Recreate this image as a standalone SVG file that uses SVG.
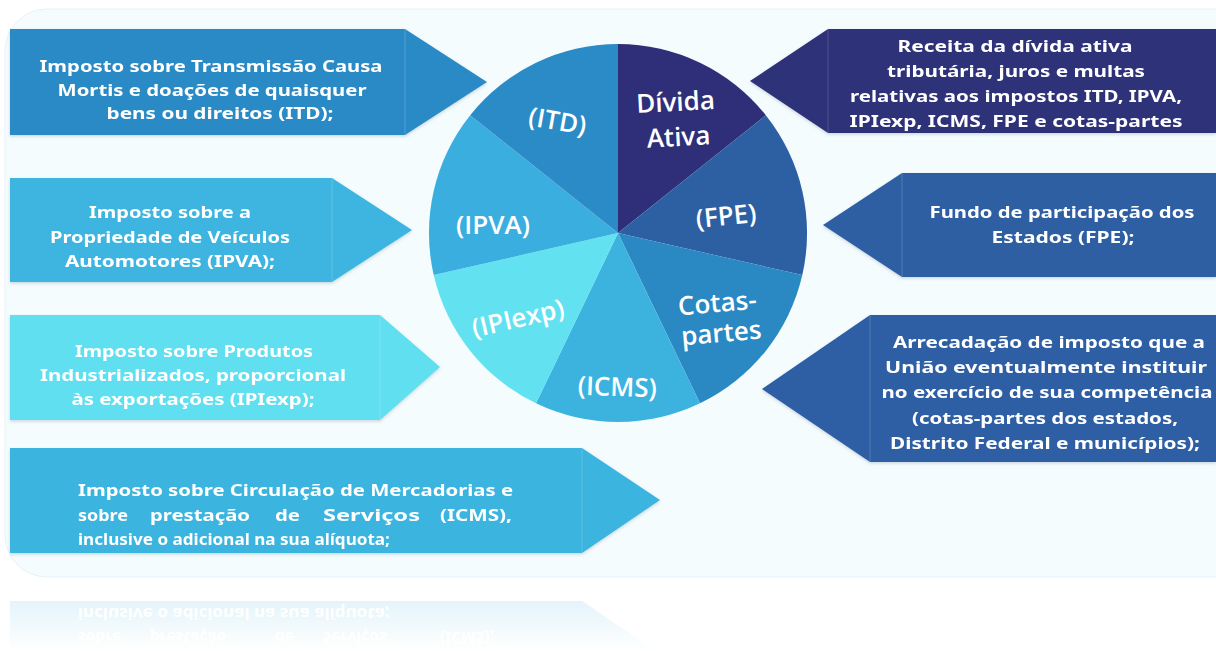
<svg xmlns="http://www.w3.org/2000/svg" width="1216" height="651" viewBox="0 0 1216 651">
<defs>
<style>
.bt{font-family:"Noto Sans","DejaVu Sans",sans-serif;font-weight:700;font-size:15.5px;fill:#ffffff;text-anchor:middle}
.bl{font-family:"Noto Sans","DejaVu Sans",sans-serif;font-weight:700;font-size:15.5px;fill:#ffffff}
.pl{font-family:"Open Sans","Noto Sans",sans-serif;font-weight:600;font-size:26px;fill:#ffffff;text-anchor:middle}
.sep{stroke:#ffffff;stroke-opacity:0.18;stroke-width:1}
</style>
<linearGradient id="fade" x1="0" y1="0" x2="0" y2="1">
<stop offset="0" stop-color="#ffffff" stop-opacity="0.35"/>
<stop offset="1" stop-color="#ffffff" stop-opacity="1"/>
</linearGradient>
<filter id="sh" x="-5%" y="-5%" width="110%" height="115%">
<feDropShadow dx="0" dy="1.5" stdDeviation="1.5" flood-color="#4a6a80" flood-opacity="0.25"/>
</filter>
</defs>
<rect x="0" y="0" width="1216" height="651" fill="#ffffff"/>
<rect id="card" x="5" y="9" width="1260" height="568" rx="42" fill="#f5fcfe" stroke="#e6f3f8" stroke-width="1"/>

<!-- reflection -->
<g id="reflection" transform="translate(0,1154) scale(1,-1)" opacity="0.3">
<path d="M10,448 H582 L660,500 L582,553 H10 Z" fill="#3bb4df"/>
<text class="bl" y="522"><tspan x="78">sobre</tspan><tspan x="150">prestação</tspan><tspan x="275">de</tspan><tspan x="323">Serviços</tspan><tspan x="440">(ICMS),</tspan></text>
<text class="bl" x="78" y="546" textLength="312" lengthAdjust="spacingAndGlyphs">inclusive o adicional na sua alíquota;</text>
</g>
<rect x="0" y="580" width="1216" height="71" fill="url(#fade)"/>

<!-- pie -->
<g id="pie">
<g id="slice-divida"><path d="M618,233 L618,44 A189,189 0 0 1 765.8,115.2 Z" fill="#2e2f78"/></g>
<g id="slice-fpe"><path d="M618,233 L765.8,115.2 A189,189 0 0 1 802.3,275.1 Z" fill="#2d5fa3"/></g>
<g id="slice-cotas"><path d="M618,233 L802.3,275.1 A189,189 0 0 1 700,403.3 Z" fill="#2a88c3"/></g>
<g id="slice-icms"><path d="M618,233 L700,403.3 A189,189 0 0 1 536,403.3 Z" fill="#3cb3de"/></g>
<g id="slice-ipiexp"><path d="M618,233 L536,403.3 A189,189 0 0 1 433.7,275.1 Z" fill="#62e2f1"/></g>
<g id="slice-ipva"><path d="M618,233 L433.7,275.1 A189,189 0 0 1 470.2,115.2 Z" fill="#3aaedf"/></g>
<g id="slice-itd"><path d="M618,233 L470.2,115.2 A189,189 0 0 1 618,44 Z" fill="#2b8bc6"/></g>
<text class="pl" transform="translate(556,130) rotate(10)">(ITD)</text>
<text class="pl" transform="translate(676,111) rotate(-3)">Dívida</text>
<text class="pl" transform="translate(679,146) rotate(-3)">Ativa</text>
<text class="pl" transform="translate(727,225) rotate(-6)">(FPE)</text>
<text class="pl" transform="translate(718,312) rotate(-5)">Cotas-</text>
<text class="pl" transform="translate(722,342) rotate(-5)">partes</text>
<text class="pl" transform="translate(617,396) rotate(2)">(ICMS)</text>
<text class="pl" transform="translate(520,327) rotate(-13)">(IPIexp)</text>
<text class="pl" x="493" y="234">(IPVA)</text>
</g>

<g id="connectors"></g>

<!-- left nodes -->
<g id="node-itd" filter="url(#sh)">
<path d="M10,29 H405 L487,82 L405,135 H10 Z" fill="#2b8ac6"/>
<line class="sep" x1="405" y1="29" x2="405" y2="135"/>
<text class="bt" x="211" y="72" textLength="343" lengthAdjust="spacingAndGlyphs">Imposto sobre Transmissão Causa</text>
<text class="bt" x="212" y="96" textLength="309" lengthAdjust="spacingAndGlyphs">Mortis e doações de quaisquer</text>
<text class="bt" x="220" y="119" textLength="227" lengthAdjust="spacingAndGlyphs">bens ou direitos (ITD);</text>
</g>
<g id="node-ipva" filter="url(#sh)">
<path d="M10,178 H332 L412,230 L332,282 H10 Z" fill="#3db5e0"/>
<line class="sep" x1="332" y1="178" x2="332" y2="282"/>
<text class="bt" x="170" y="218" textLength="162" lengthAdjust="spacingAndGlyphs">Imposto sobre a</text>
<text class="bt" x="170" y="243" textLength="240" lengthAdjust="spacingAndGlyphs">Propriedade de Veículos</text>
<text class="bt" x="170" y="267" textLength="210" lengthAdjust="spacingAndGlyphs">Automotores (IPVA);</text>
</g>
<g id="node-ipiexp" filter="url(#sh)">
<path d="M10,315 H380 L440,367 L380,420 H10 Z" fill="#5fdfef"/>
<line class="sep" x1="380" y1="315" x2="380" y2="420"/>
<text class="bt" x="194" y="357" textLength="238" lengthAdjust="spacingAndGlyphs">Imposto sobre Produtos</text>
<text class="bt" x="193" y="381" textLength="306" lengthAdjust="spacingAndGlyphs">Industrializados, proporcional</text>
<text class="bt" x="193" y="405" textLength="243" lengthAdjust="spacingAndGlyphs">às exportações (IPIexp);</text>
</g>
<g id="node-icms" filter="url(#sh)">
<path d="M10,448 H582 L660,500 L582,553 H10 Z" fill="#3bb4df"/>
<line class="sep" x1="582" y1="448" x2="582" y2="553"/>
<text class="bl" x="78" y="496" textLength="435" lengthAdjust="spacingAndGlyphs">Imposto sobre Circulação de Mercadorias e</text>
<text class="bl" x="78" y="521" textLength="50" lengthAdjust="spacingAndGlyphs">sobre</text>
<text class="bl" x="150" y="521" textLength="100" lengthAdjust="spacingAndGlyphs">prestação</text>
<text class="bl" x="275" y="521" textLength="25" lengthAdjust="spacingAndGlyphs">de</text>
<text class="bl" x="323" y="521" textLength="97" lengthAdjust="spacingAndGlyphs">Serviços</text>
<text class="bl" x="440" y="521" textLength="72" lengthAdjust="spacingAndGlyphs">(ICMS),</text>
<text class="bl" x="78" y="545" textLength="312" lengthAdjust="spacingAndGlyphs">inclusive o adicional na sua alíquota;</text>
</g>

<!-- right nodes -->
<g id="node-divida" filter="url(#sh)">
<path d="M1216,29 H828 L750,81 L828,133 H1216 Z" fill="#2e3178"/>
<line class="sep" x1="828" y1="29" x2="828" y2="133"/>
<text class="bt" x="1015" y="52" textLength="235" lengthAdjust="spacingAndGlyphs">Receita da dívida ativa</text>
<text class="bt" x="1016" y="77" textLength="258" lengthAdjust="spacingAndGlyphs">tributária, juros e multas</text>
<text class="bt" x="1016" y="102" textLength="332" lengthAdjust="spacingAndGlyphs">relativas aos impostos ITD, IPVA,</text>
<text class="bt" x="1016" y="127" textLength="333" lengthAdjust="spacingAndGlyphs">IPIexp, ICMS, FPE e cotas-partes</text>
</g>
<g id="node-fpe" filter="url(#sh)">
<path d="M1216,173 H902 L823,225 L902,277 H1216 Z" fill="#2e5ea3"/>
<line class="sep" x1="902" y1="173" x2="902" y2="277"/>
<text class="bt" x="1062" y="218" textLength="265" lengthAdjust="spacingAndGlyphs">Fundo de participação dos</text>
<text class="bt" x="1063" y="243" textLength="143" lengthAdjust="spacingAndGlyphs">Estados (FPE);</text>
</g>
<g id="node-cotas" filter="url(#sh)">
<path d="M1216,315 H870 L762,389 L870,462 H1216 Z" fill="#2d5ea4"/>
<line class="sep" x1="870" y1="315" x2="870" y2="462"/>
<text class="bt" x="1049" y="348" textLength="312" lengthAdjust="spacingAndGlyphs">Arrecadação de imposto que a</text>
<text class="bt" x="1046" y="373" textLength="322" lengthAdjust="spacingAndGlyphs">União eventualmente instituir</text>
<text class="bt" x="1047" y="398" textLength="331" lengthAdjust="spacingAndGlyphs">no exercício de sua competência</text>
<text class="bt" x="1045" y="424" textLength="266" lengthAdjust="spacingAndGlyphs">(cotas-partes dos estados,</text>
<text class="bt" x="1045" y="449" textLength="310" lengthAdjust="spacingAndGlyphs">Distrito Federal e municípios);</text>
</g>
</svg>
